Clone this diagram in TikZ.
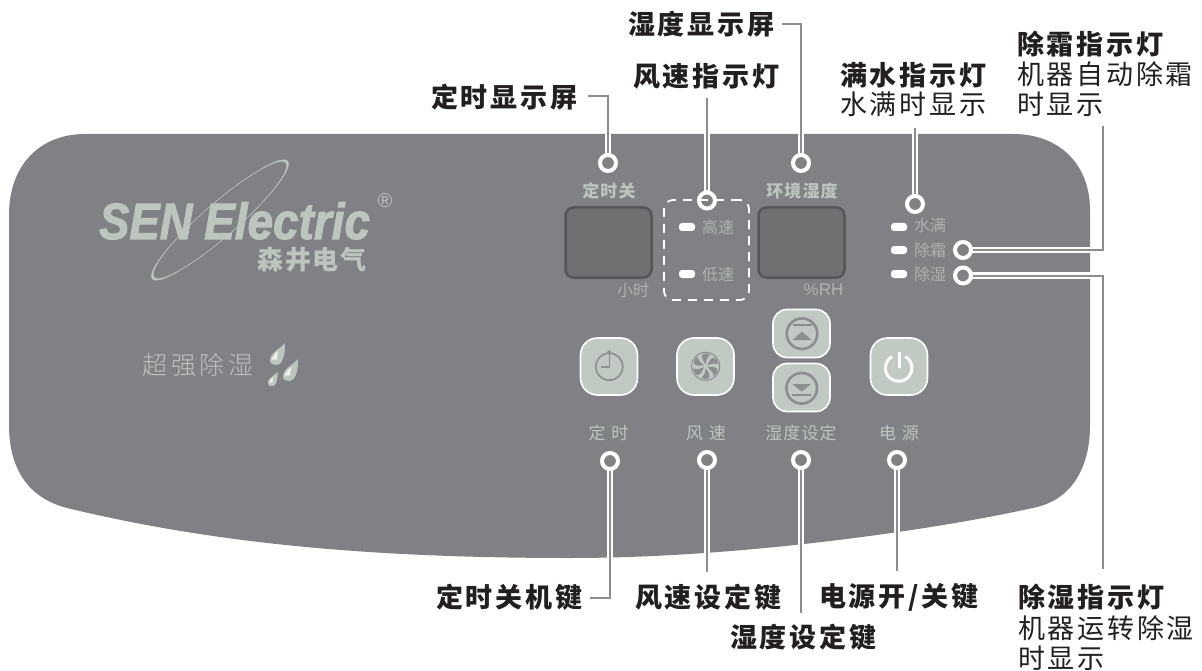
\documentclass[tikz,border=0pt]{standalone}
\usepackage{fontspec}
\setmainfont{Noto Sans CJK SC}
\newfontfamily\cnlab[LetterSpace=10]{Noto Sans CJK SC}
\newfontfamily\cnpan[LetterSpace=6]{Noto Sans CJK SC}
\newfontfamily\cnwide[LetterSpace=14]{Noto Sans CJK SC Light}
\newfontfamily\logofont{Liberation Sans}
\newfontfamily\logoheavy[FakeBold=2]{Liberation Sans Bold Italic}
\definecolor{panel}{HTML}{808184}
\definecolor{leadgray}{HTML}{8C8D8F}
\definecolor{pale}{HTML}{BDC5BF}
\definecolor{soft}{HTML}{AEB3B1}
\definecolor{keyfill}{HTML}{C1C9C3}
\definecolor{screen}{HTML}{6F7072}
\definecolor{screenedge}{HTML}{55565A}
\definecolor{ink}{HTML}{231F20}
\tikzset{
  x=1pt,y=-1pt,
  ring/.style={circle,draw=white,line width=4pt,minimum size=16pt,inner sep=0pt},
  lead/.style={draw=leadgray,line width=2pt,preaction={draw=white,line width=6.5pt,shorten <=-1.5pt}},
  lab/.style={anchor=west,inner sep=0pt,text=ink,font=\cnlab\fontsize{27}{30}\selectfont\bfseries},
  labdesc/.style={anchor=north west,inner sep=0pt,text=ink,align=left,font=\cnlab\fontsize{27}{30}\selectfont},
  pantitle/.style={inner sep=0pt,text=pale,font=\cnpan\fontsize{17}{18}\selectfont\bfseries},
  pansmall/.style={inner sep=0pt,text=soft,font=\fontsize{16}{18}\selectfont},
  keylabel/.style={inner sep=0pt,text=pale,font=\cnpan\fontsize{17}{18}\selectfont},
  led/.style={fill=white,rounded corners=3pt,minimum width=16pt,minimum height=8pt,inner sep=0pt},
  display/.style={fill=screen,draw=screenedge,line width=2.5pt,rounded corners=8pt,minimum width=86pt,minimum height=70pt,inner sep=0pt},
  key/.style={fill=keyfill,draw=white,line width=1.6pt,rounded corners=17pt,minimum width=57pt,minimum height=57pt,inner sep=0pt},
  keyflat/.style={fill=keyfill,draw=white,line width=1.6pt,rounded corners=14pt,minimum width=57pt,minimum height=48pt,inner sep=0pt},
  icon/.style={draw=leadgray,line width=1.6pt},
}
\newcommand{\waterdrop}[3]{% x, y of the tip, scale
  \begin{scope}[shift={(#1,#2)},scale=#3]
    \fill[pale] (0,0) .. controls (-4,5) and (-15,10) .. (-15,17) .. controls (-15,21) and (-12,22) .. (-9,22) .. controls (-4,22) and (-2,17) .. (-1,12) .. controls (0,8) and (0,4) .. (0,0) -- cycle;
    \fill[white!75!pale] (-7,8) .. controls (-10,11) and (-13,14) .. (-13,16.5) -- (-8,16.5) -- cycle;
  \end{scope}}
\begin{document}
\begin{tikzpicture}
\useasboundingbox (0,0) rectangle (1202,671);
\fill[white] (0,0) rectangle (1202,671);
% panel
\fill[panel] (85,134) -- (1013,134) .. controls (1060,134) and (1090,165) .. (1090,210)
  -- (1090,425) .. controls (1090,470) and (1070,499) .. (1037,507)
  .. controls (950,527) and (750,558) .. (570,558)
  .. controls (350,558) and (200,540) .. (67,508)
  .. controls (25,497) and (9,465) .. (9,425)
  -- (9,215) .. controls (9,165) and (40,134) .. (85,134) -- cycle;
% logo
\begin{scope}[rotate around={41:(220,220)}]
  \fill[pale,even odd rule] (220,220) ellipse [x radius=90,y radius=17]
        (220,220) ellipse [x radius=87,y radius=16.4];
\end{scope}
\node[inner sep=0pt,anchor=base west,text=pale,text depth=0pt,font=\logoheavy\fontsize{51}{51}\selectfont,xscale=.89] (logoa) at (99,239) {SEN};
\node[inner sep=0pt,anchor=base west,text=pale,text depth=0pt,font=\logoheavy\fontsize{51}{51}\selectfont,xscale=.9] (logob) at (204,239) {Electric};
\node[inner sep=0pt,text=pale,font=\logofont\fontsize{20}{20}\selectfont] (logor) at (385,201) {®};
\node[inner sep=0pt,anchor=base,text=pale,text height=20pt,text depth=0pt,font=\cnpan\fontsize{26}{28}\selectfont\bfseries] (logoc) at (312,269.5) {森井电气};
\node[inner sep=0pt,text=soft!80!white,font=\cnwide\fontsize{25}{28}\selectfont] (slogan) at (198,365) {超强除湿};
\waterdrop{285}{343}{1}
\waterdrop{298}{359}{1}
\waterdrop{277.7}{371.7}{.66}
% displays
\node[pantitle] (t1) at (609,191) {定时关};
\node[pantitle] (t2) at (802,191) {环境湿度};
\node[display] (d1) at (608.5,242.5) {};
\node[display] (d2) at (801.5,242.5) {};
\node[pansmall] (u1) at (633,290) {小时};
\node[inner sep=0pt,text=soft,font=\logofont\fontsize{17}{18}\selectfont] (u2) at (823.5,290) {\%RH};
% dashed frame
\node[draw=white,line width=1.8pt,dash pattern=on 9pt off 7pt,rounded corners=9pt,minimum width=85pt,minimum height=100pt,inner sep=0pt] (frame) at (706.5,250) {};
% leds
\node[led] (l1) at (687,227) {};
\node[led] (l2) at (687,274) {};
\node[pansmall] (lt1) at (718,227) {高速};
\node[pansmall] (lt2) at (718,274) {低速};
\node[led] (l3) at (899,227) {};
\node[led] (l4) at (899,250) {};
\node[led] (l5) at (899,274) {};
\node[pansmall] (lt3) at (930,225) {水满};
\node[pansmall] (lt4) at (930,250) {除霜};
\node[pansmall] (lt5) at (930,274) {除湿};
% keys
\node[key] (k1) at (609,366.5) {};
\node[key] (k2) at (705.5,366.5) {};
\node[key] (k3) at (899,366.5) {};
\node[keyflat] (k4) at (801.5,333.5) {};
\node[keyflat] (k5) at (801.5,387.5) {};
% clock icon
\draw[icon] (609.3,366.7) circle (13.5);
\draw[icon] (609.3,353) -- (609.3,366.7) -- (601,366.7);
\fill[leadgray] (609.3,352.5) circle (2);
% fan icon
\draw[leadgray,line width=1pt] (705.7,366.3) circle (14);
\foreach \a in {0,60,...,300}{
  \begin{scope}[shift={(705.7,366.3)},rotate=\a]
    \fill[leadgray] (0,-2) .. controls (-3,-6) and (-5,-9) .. (-3,-12) .. controls (-1,-13.5) and (2,-13) .. (4.5,-11.5) .. controls (1.5,-10) and (0.5,-6) .. (0,-2) -- cycle;
  \end{scope}
}
% power icon
\draw[white,line width=3pt] (892,356.5) arc (-120:-420:13.3);
\draw[white,line width=3pt,line cap=round] (899,353) -- (899,367);
% up / down icons
\draw[leadgray,line width=2.6pt] (802,333.7) circle (15.3);
\fill[leadgray] (802,331.5) -- (811.5,340) -- (792.5,340) -- cycle;
\fill[leadgray] (792.5,324) rectangle (811.5,326);
\draw[leadgray,line width=2.6pt] (801.7,388.3) circle (15.3);
\fill[leadgray] (792.2,384) -- (811.2,384) -- (801.7,391.5) -- cycle;
\fill[leadgray] (792.2,394) rectangle (811.2,396);
% key captions
\node[keylabel] (c1) at (608.5,433) {定\,\,时};
\node[keylabel] (c2) at (706,433) {风\,\,速};
\node[keylabel] (c3) at (801,433) {湿度设定};
\node[keylabel] (c4) at (899,433) {电\,\,源};
% rings
\node[ring] (r1) at (608,163) {};
\node[ring] (r2) at (707,200.5) {};
\node[ring] (r3) at (801,163) {};
\node[ring] (r4) at (915,204) {};
\node[ring] (r5) at (963,250) {};
\node[ring] (r6) at (963,275.5) {};
\node[ring] (r7) at (610,461) {};
\node[ring] (r8) at (707,460) {};
\node[ring] (r9) at (801,460) {};
\node[ring] (r10) at (897,460) {};
% connector free ends
\coordinate (e1) at (588,96);
\coordinate (e2) at (707,98);
\coordinate (e3) at (782,24);
\coordinate (e4) at (915,128);
\coordinate (e5) at (1103,126);
\coordinate (e6) at (1103,569);
\coordinate (e7) at (590,598);
\coordinate (e8) at (707,572);
\coordinate (e9) at (801,613);
\coordinate (e10) at (897,571);
% connectors
\draw[lead] (r1.north) |- (e1);
\draw[lead] (r2.north) -- (e2);
\draw[lead] (r3.north) |- (e3);
\draw[lead] (r4.north) -- (e4);
\draw[lead] (r5.east) -| (e5);
\draw[lead] (r6.east) -| (e6);
\draw[lead] (r7.south) |- (e7);
\draw[lead] (r8.south) -- (e8);
\draw[lead] (r9.south) -- (e9);
\draw[lead] (r10.south) -- (e10);
% callout labels
\node[lab] (n1) at (431,97) {定时显示屏};
\node[lab] (n2) at (628,24) {湿度显示屏};
\node[lab] (n3) at (633,76) {风速指示灯};
\node[lab] (n4) at (840,75) {满水指示灯};
\node[labdesc] (n4b) at (840,92) {水满时显示};
\node[lab] (n5) at (1017,44) {除霜指示灯};
\node[labdesc] (n5b) at (1017,61) {机器自动除霜\\时显示};
\node[lab] (n6) at (436,597) {定时关机键};
\node[lab] (n7) at (635,597) {风速设定键};
\node[lab] (n8) at (819,597) {电源开/关键};
\node[lab] (n9) at (730,637) {湿度设定键};
\node[lab] (n10) at (1018,597) {除湿指示灯};
\node[labdesc] (n10b) at (1018,615) {机器运转除湿\\时显示};
\end{tikzpicture}
\end{document}
